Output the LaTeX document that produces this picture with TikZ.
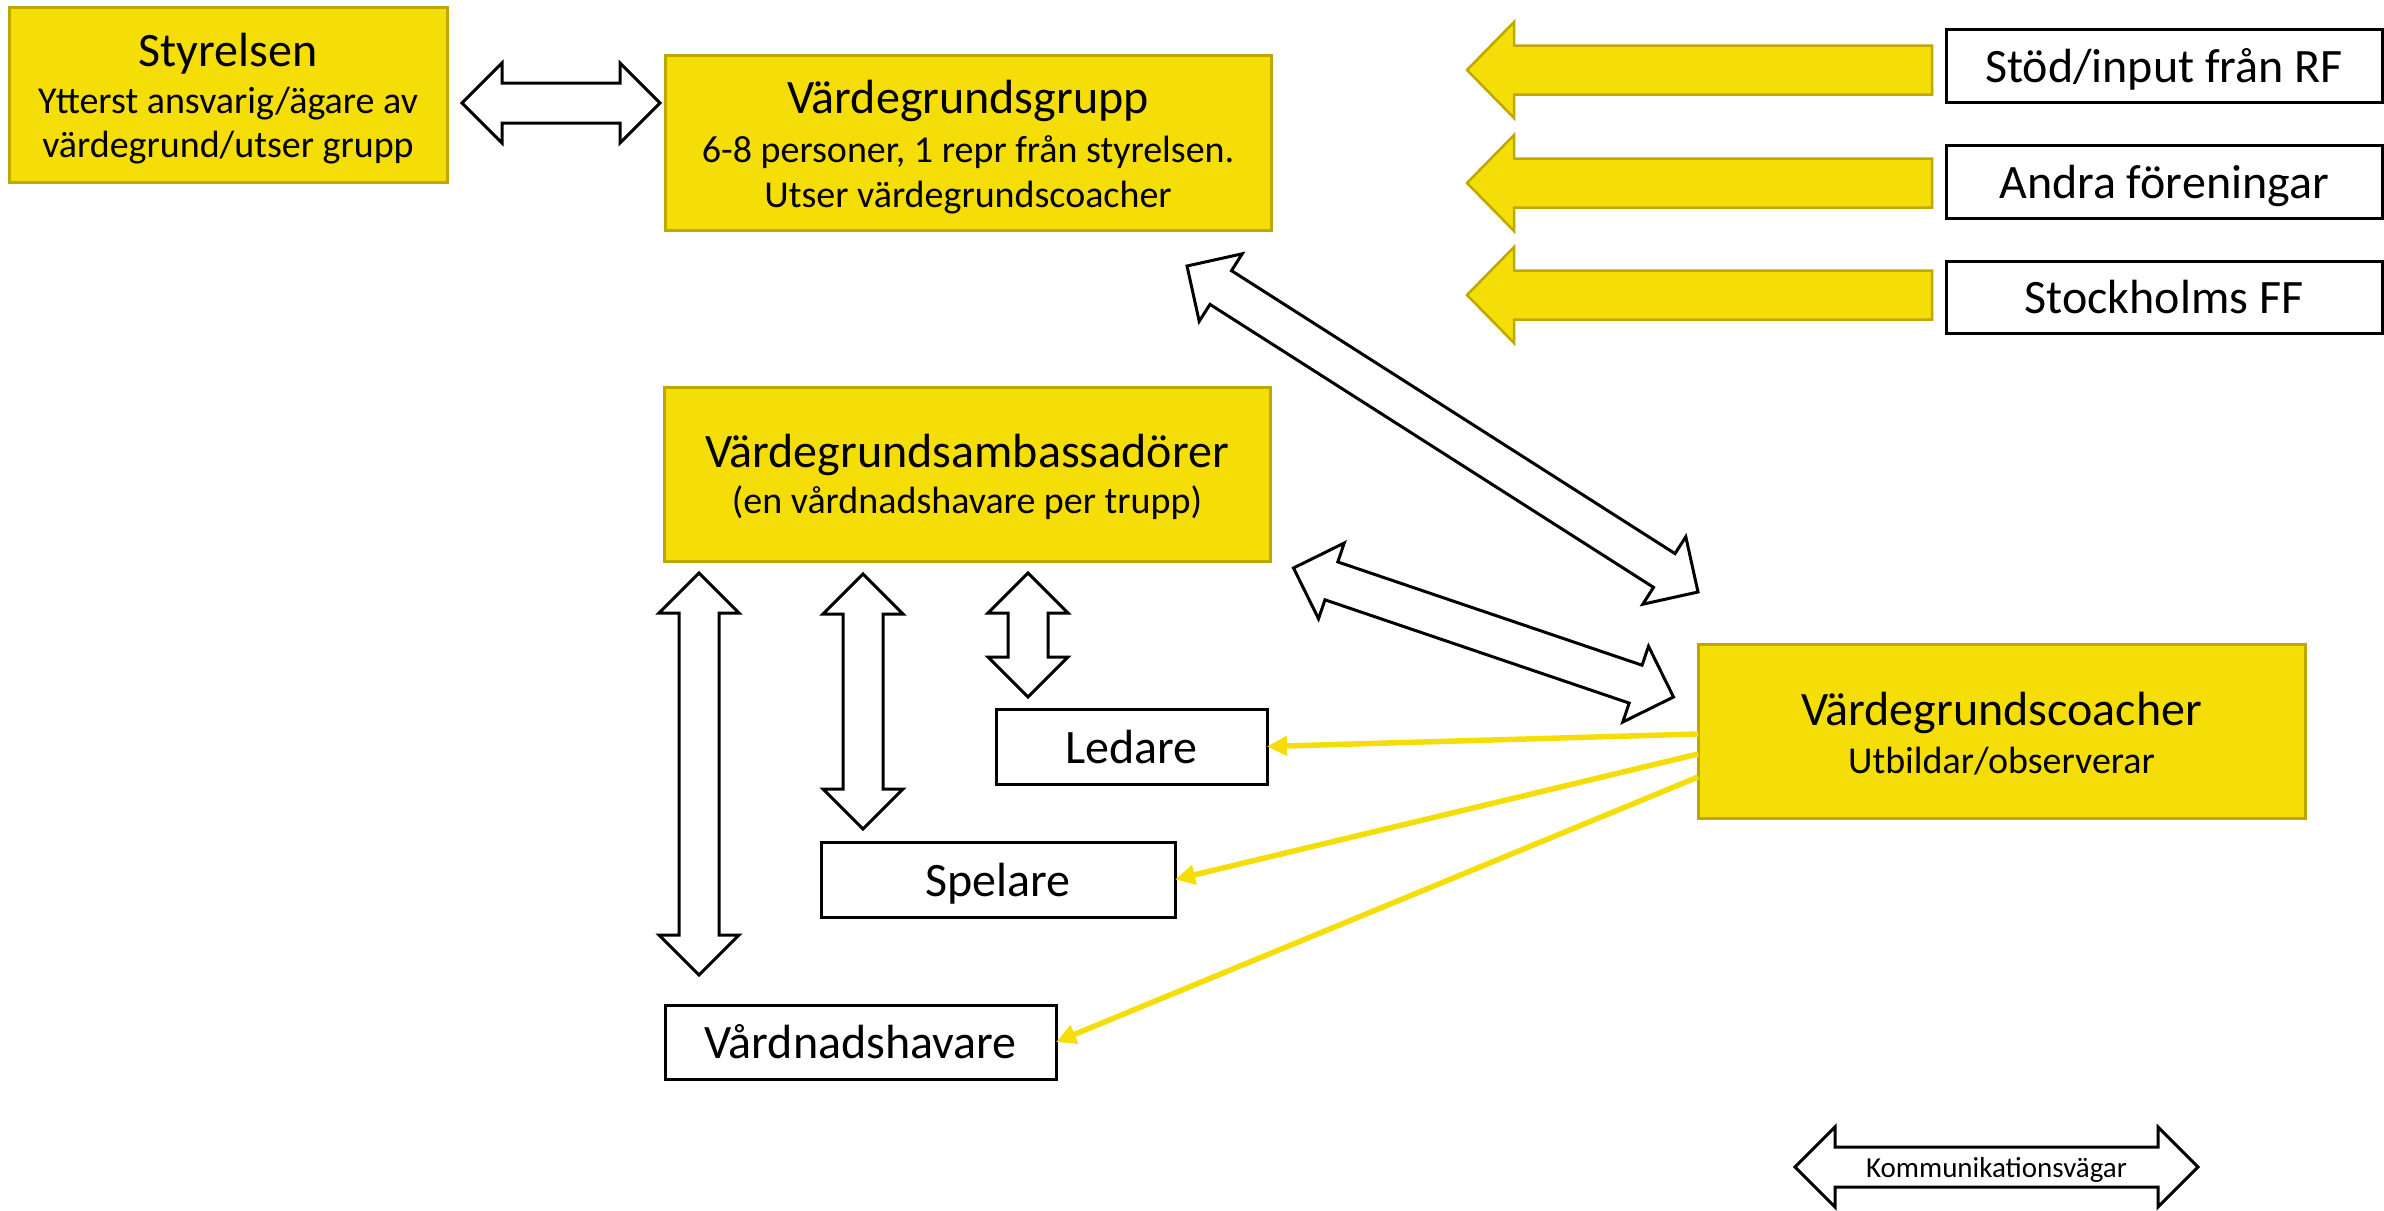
\documentclass[tikz,border=0pt]{standalone}
\usepackage{fontspec}
\setmainfont{Carlito}
\usetikzlibrary{calc,arrows.meta}
\definecolor{yel}{RGB}{245,222,8}
\definecolor{yelb}{RGB}{190,168,0}
\newcommand{\bigf}{\fontsize{48}{57}\selectfont}
\newcommand{\smallf}{\fontsize{38}{46}\selectfont}
\newcommand{\legf}{\fontsize{29}{35}\selectfont}
% double block arrow between two named coordinates
\newcommand{\blockdbl}[2]{%
  \draw[blockarrow] (#1)
   -- ($(#1)!40pt!(#2)!40pt!90:(#2)$)
   -- ($(#1)!40pt!(#2)!20pt!90:(#2)$)
   -- ($(#2)!40pt!(#1)!20pt!-90:(#1)$)
   -- ($(#2)!40pt!(#1)!40pt!-90:(#1)$)
   -- (#2)
   -- ($(#2)!40pt!(#1)!40pt!90:(#1)$)
   -- ($(#2)!40pt!(#1)!20pt!90:(#1)$)
   -- ($(#1)!40pt!(#2)!20pt!-90:(#2)$)
   -- ($(#1)!40pt!(#2)!40pt!-90:(#2)$)
   -- cycle;}
% single yellow block arrow: #1 tail, #2 tip
\newcommand{\blocksgl}[2]{%
  \draw[yarrow] (#2)
   -- ($(#2)!47pt!(#1)!48pt!90:(#1)$)
   -- ($(#2)!47pt!(#1)!24.5pt!90:(#1)$)
   -- ($(#1)!24.5pt!-90:(#2)$)
   -- ($(#1)!24.5pt!90:(#2)$)
   -- ($(#2)!47pt!(#1)!24.5pt!-90:(#1)$)
   -- ($(#2)!47pt!(#1)!48pt!-90:(#1)$)
   -- cycle;}
\begin{document}
\begin{tikzpicture}[x=1pt,y=-1pt,
  ybox/.style={draw=yelb, fill=yel, line width=3pt, anchor=north west, inner sep=0pt, outer sep=0pt},
  wbox/.style={draw=black, fill=white, line width=3pt, anchor=north west, inner sep=0pt, outer sep=0pt},
  lbl/.style={anchor=base, inner sep=0pt, text=black},
  blockarrow/.style={draw=black, fill=white, line width=3pt, line join=miter},
  yarrow/.style={draw=yelb, fill=yel, line width=2.5pt, line join=miter},
  yline/.style={draw=yel, line width=5.5pt, -{Triangle[length=20pt,width=19pt]}},
]
\useasboundingbox (0,0) rectangle (2384,1210);
\fill[white] (0,0) rectangle (2384,1210);

% ---- boxes ----
\node[ybox, minimum width=438pt, minimum height=175pt] (sty) at (9,7) {};
\node[ybox, minimum width=606pt, minimum height=175pt] (grp) at (665,55) {};
\node[ybox, minimum width=606pt, minimum height=174pt] (amb) at (664,387) {};
\node[ybox, minimum width=607pt, minimum height=174pt] (coach) at (1698,644) {};
\node[wbox, minimum width=436pt, minimum height=73pt] (rf) at (1946,29) {};
\node[wbox, minimum width=436pt, minimum height=73pt] (andra) at (1946,145) {};
\node[wbox, minimum width=436pt, minimum height=72pt] (sff) at (1946,261) {};
\node[wbox, minimum width=271pt, minimum height=75pt] (led) at (996,709) {};
\node[wbox, minimum width=354pt, minimum height=75pt] (spel) at (821,842) {};
\node[wbox, minimum width=391pt, minimum height=74pt] (vard) at (665,1005) {};

% ---- texts ----
\node[lbl, font=\bigf] (styt) at (228,66) {Styrelsen};
\node[lbl, font=\smallf] (sty2) at (228,113) {Ytterst ansvarig/ägare av};
\node[lbl, font=\smallf] (sty3) at (228,157) {värdegrund/utser grupp};
\node[lbl, font=\bigf] (grpt) at (968,113) {Värdegrundsgrupp};
\node[lbl, font=\smallf] (grp2) at (968,162) {6-8 personer, 1 repr från styrelsen.};
\node[lbl, font=\smallf] (grp3) at (968,207) {Utser värdegrundscoacher};
\node[lbl, font=\bigf] (ambt) at (967,467) {Värdegrundsambassadörer};
\node[lbl, font=\smallf] (amb2) at (967,513) {(en vårdnadshavare per trupp)};
\node[lbl, font=\bigf] (coacht) at (2001.5,725) {Värdegrundscoacher};
\node[lbl, font=\smallf] (coach2) at (2001.5,773) {Utbildar/observerar};
\node[lbl, font=\bigf] (rft) at (2164,82) {Stöd/input från RF};
\node[lbl, font=\bigf] (andrat) at (2164,198) {Andra föreningar};
\node[lbl, font=\bigf] (sfft) at (2164,313.5) {Stockholms FF};
\node[lbl, font=\bigf] (ledt) at (1131.5,763) {Ledare};
\node[lbl, font=\bigf] (spelt) at (998,896) {Spelare};
\node[lbl, font=\bigf] (vardt) at (860.5,1058.5) {Vårdnadshavare};

% ---- yellow input arrows ----
\coordinate (y1t) at (1932,70);  \coordinate (y1h) at (1467,70);
\coordinate (y2t) at (1932,183); \coordinate (y2h) at (1467,183);
\coordinate (y3t) at (1932,295); \coordinate (y3h) at (1467,295);
\blocksgl{y1t}{y1h}
\blocksgl{y2t}{y2h}
\blocksgl{y3t}{y3h}

% ---- communication arrows ----
\coordinate (h1) at (462,103);    \coordinate (h2) at (660,103);
\coordinate (d1a) at (1187,266);  \coordinate (d1b) at (1698,592);
\coordinate (d2a) at (1293.5,568);\coordinate (d2b) at (1673.5,697);
\coordinate (v1a) at (699,573);   \coordinate (v1b) at (699,975);
\coordinate (v2a) at (863,574);   \coordinate (v2b) at (863,829);
\coordinate (v3a) at (1028,573);  \coordinate (v3b) at (1028,697);
\coordinate (lga) at (1795,1167); \coordinate (lgb) at (2198,1167);
\blockdbl{h1}{h2}
\blockdbl{d1a}{d1b}
\blockdbl{d2a}{d2b}
\blockdbl{v1a}{v1b}
\blockdbl{v2a}{v2b}
\blockdbl{v3a}{v3b}
\blockdbl{lga}{lgb}
\node[lbl, font=\legf] (legt) at (1996.5,1177) {Kommunikationsvägar};

% ---- yellow connectors ----
\draw[yline] ([yshift=-3pt]coach.west) -- (led.east);
\draw[yline] ([yshift=-23pt]coach.west) -- (spel.east);
\draw[yline] ([yshift=-46pt]coach.west) -- (vard.east);
\end{tikzpicture}
\end{document}
